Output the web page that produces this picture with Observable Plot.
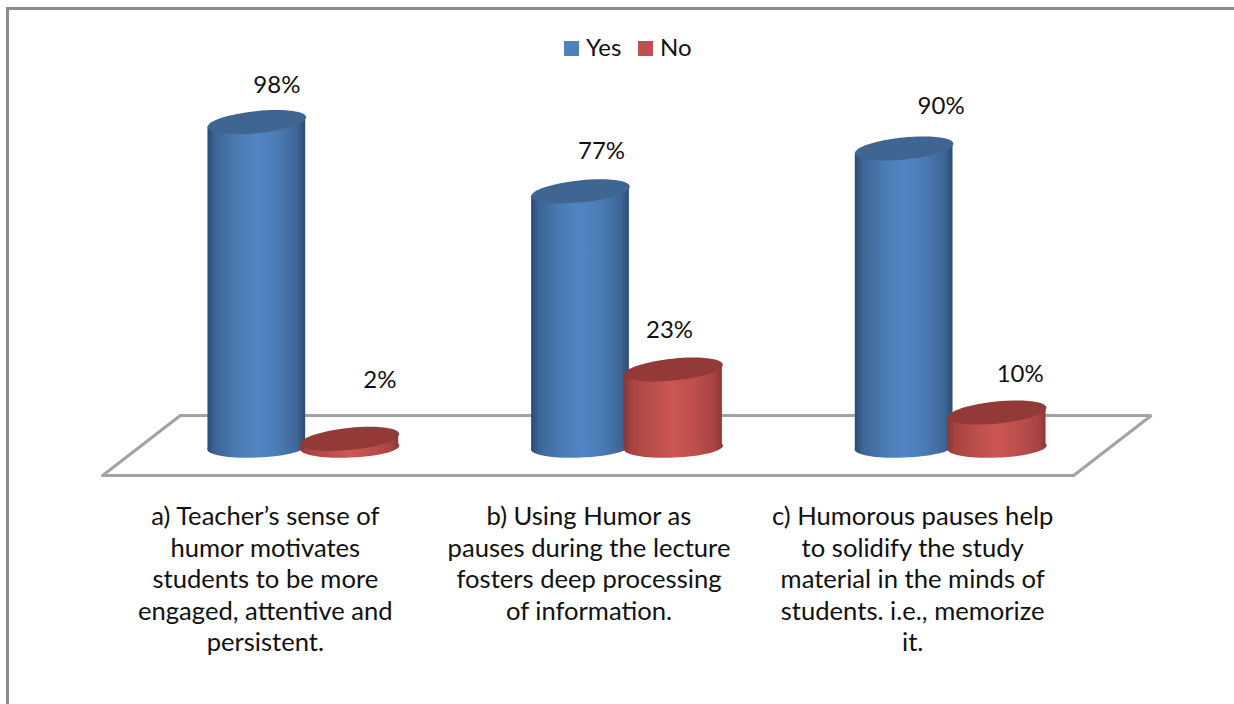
<!DOCTYPE html>
<html>
<head>
<meta charset="utf-8">
<script src="https://cdn.jsdelivr.net/npm/d3@7"></script>
<script src="https://cdn.jsdelivr.net/npm/@observablehq/plot@0.6"></script>
<style>
  html, body { margin: 0; background: #fff; }
  #page { position: relative; width: 1234px; height: 704px; overflow: hidden; font-family: Lato, sans-serif; color: #111; }
  #frame { position: absolute; left: 6px; top: 7px; width: 1300px; height: 800px; border-top: 3px solid #8c8c8c; border-left: 3px solid #8c8c8c; }
  #legend { position: absolute; left: 0; top: 31px; width: 100%; height: 32px; font-size: 24px; line-height: 32px; }
  #legend i { position: absolute; top: 10px; width: 15px; height: 15px; }
  #legend span { position: absolute; top: 0; }
  #chart { position: absolute; left: 0; top: 0; }
</style>
</head>
<body>
<div id="page">
  <div id="frame"></div>
  <div id="chart"></div>
  <div id="legend">
    <i style="left:564px;background:#4f81bd"></i><span style="left:586px">Yes</span>
    <i style="left:638px;background:#c0504d"></i><span style="left:660px">No</span>
  </div>
</div>
<script>
// Survey results: share of respondents answering Yes / No per statement.
const categories = [
  "a) Teacher’s sense of\nhumor motivates\nstudents to be more\nengaged, attentive and\npersistent.",
  "b) Using Humor as\npauses during the lecture\nfosters deep processing\nof information.",
  "c) Humorous pauses help\nto solidify the study\nmaterial in the minds of\nstudents. i.e., memorize\nit."
];
const yesValues = [98, 77, 90];
const noValues = [2, 23, 10];
const seriesColors = {
  Yes: {top: "#3f6592", stops: ["#2b4b72", "#3d6595", "#4a7bb3", "#5285c6", "#4a7bb3", "#3d6595", "#2c4c74"]},
  No: {top: "#933a38", stops: ["#8c3735", "#a84442", "#bb4f4c", "#cd5653", "#bb4f4c", "#a84442", "#8c3735"]}
};

// Cylinder placement, in x-scale units (one unit per category).
const barOffset = 0.1437;
const barHalfWidth = 0.151;
// Rise of the cylinder ends from left to right, in percentage points.
const topTilt = 1.5;
const baseDrop = -1.2;

// Hand placed value labels: pixel nudges from the top of each cylinder.
const labelNudges = {
  Yes: [[20, -37], [21, -40], [37, -42]],
  No: [[30, -59], [-4, -39], [23, -38]]
};

const bars = ["Yes", "No"].flatMap((series) =>
  categories.map((_, i) => ({
    series,
    center: i + 0.5 + (series === "Yes" ? -barOffset : barOffset),
    value: (series === "Yes" ? yesValues : noValues)[i],
    nudge: labelNudges[series][i],
    category: i
  }))
).sort((a, b) => a.category - b.category || (a.series === "Yes" ? -1 : 1));

// Floor plate: a parallelogram around the zero line.
const skew = 0.12, depth = 9.1;
const floor = [
  {x: -skew, y: -depth},
  {x: 3 - skew, y: -depth},
  {x: 3 + skew, y: depth},
  {x: skew, y: depth},
  {x: -skew, y: -depth}
];

// A tilted ellipse as a custom dot symbol; r is the horizontal semi-axis.
function ellipseSymbol(ratio, degrees) {
  const t = degrees * Math.PI / 180, c = Math.cos(t), s = Math.sin(t), K = 0.5523;
  return {
    draw(ctx, size) {
      const a = Math.sqrt(size / Math.PI), b = a * ratio;
      const p = (u, v) => [u * a * c - v * b * s, u * a * s + v * b * c];
      ctx.moveTo(...p(1, 0));
      ctx.bezierCurveTo(...p(1, K), ...p(K, 1), ...p(0, 1));
      ctx.bezierCurveTo(...p(-K, 1), ...p(-1, K), ...p(-1, 0));
      ctx.bezierCurveTo(...p(-1, -K), ...p(-K, -1), ...p(0, -1));
      ctx.bezierCurveTo(...p(K, -1), ...p(1, -K), ...p(1, 0));
      ctx.closePath();
    }
  };
}
const topEnd = ellipseSymbol(0.222, -5.8);
const baseEnd = ellipseSymbol(0.205, -2.3);
const font = {fontFamily: "Lato, sans-serif", fill: "#111"};

const cylinderMarks = bars.flatMap((d) => {
  const gradient = `url(#side-${d.series})`;
  const body = [
    {x: d.center - barHalfWidth, y1: baseDrop, y2: d.value - topTilt},
    {x: d.center + barHalfWidth, y1: 0, y2: d.value + topTilt}
  ];
  return [
    Plot.dot([d], {x: "center", y: () => -0.6, r: 49.5, symbol: baseEnd, fill: gradient, stroke: "none"}),
    Plot.areaY(body, {x: "x", y1: "y1", y2: "y2", fill: gradient}),
    Plot.dot([d], {x: "center", y: "value", r: 49.5, symbol: topEnd, fill: seriesColors[d.series].top, stroke: "none"})
  ];
});

const labelMarks = bars.map((d) =>
  Plot.text([d], {
    x: "center", y: "value", text: (b) => `${b.value}%`,
    dx: d.nudge[0], dy: d.nudge[1], fontSize: 24, ...font
  })
);

const chart = Plot.plot({
  width: 1234,
  height: 704,
  marginLeft: 141,
  marginRight: 122,
  marginTop: 115,
  marginBottom: 259,
  x: {type: "linear", domain: [0, 3], axis: null},
  y: {domain: [0, 100], axis: null},
  style: {background: "transparent", overflow: "visible"},
  marks: [
    Plot.line(floor, {x: "x", y: "y", stroke: "#a3a3a3", strokeWidth: 3, strokeLinejoin: "miter"}),
    ...cylinderMarks,
    ...labelMarks,
    Plot.text(categories, {
      x: (_, i) => i + 0.5,
      text: (d) => d,
      frameAnchor: "bottom",
      lineAnchor: "top",
      dx: -38,
      dy: 57.5,
      fontSize: 25.6,
      lineHeight: 1.23,
      textAnchor: "middle",
      ...font
    })
  ]
});

// Horizontal shading for the cylinder sides.
const defs = d3.select(chart).insert("defs", ":first-child");
for (const [series, {stops}] of Object.entries(seriesColors)) {
  const g = defs.append("linearGradient").attr("id", `side-${series}`)
    .attr("x1", 0).attr("x2", 1).attr("y1", 0).attr("y2", 0);
  [0, 0.08, 0.3, 0.5, 0.72, 0.92, 1].forEach((o, i) =>
    g.append("stop").attr("offset", o).attr("stop-color", stops[i]));
}

document.getElementById("chart").append(chart);
</script>
</body>
</html>
